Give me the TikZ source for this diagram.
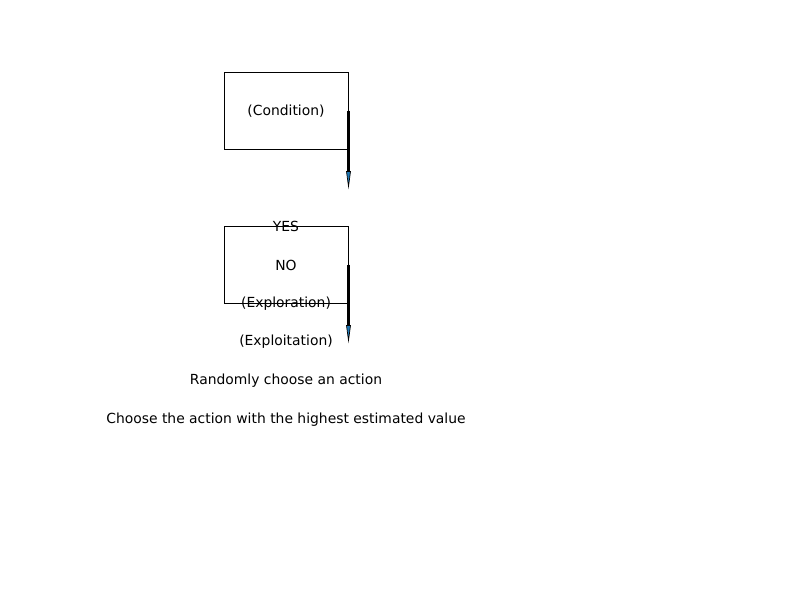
\documentclass[tikz,border=0pt]{standalone}
\usepackage{fontspec}
\setmainfont{DejaVu Sans}
\definecolor{tipblue}{HTML}{1F77B4}
\begin{document}
\begin{tikzpicture}[x=0.72pt,y=-0.72pt,
  box/.style={draw=black,line width=0.72pt,minimum width=124*0.72pt,minimum height=77*0.72pt,inner sep=0pt},
  lbl/.style={font=\fontsize{10}{12}\selectfont,inner sep=0pt,anchor=center,yshift=-1.5*0.72pt},
  shaft/.style={line width=1.5pt,black},
  head/.style={fill=tipblue,draw=black,line width=0.5pt}]
\useasboundingbox (0,0) rectangle (800,600);
\node[box] (b1) at (286,110.5) {};
\node[box] (b2) at (286,264.5) {};
\node[lbl] (t1) at (286,110) {(Condition)};
\node[lbl] (t2) at (286,225) {YES};
\node[lbl] (t3) at (286,264) {NO};
\node[lbl] (t4) at (286,302) {(Exploration)};
\node[lbl] (t5) at (286,340) {(Exploitation)};
\node[lbl] (t6) at (286,379) {Randomly choose an action};
\node[lbl] (t7) at (286,418) {Choose the action with the highest estimated value};
\coordinate (a1s) at (b1.east);
\coordinate (a1e) at ([yshift=-61*0.72pt]b1.east);
\coordinate (a1t) at ([yshift=-76*0.72pt]b1.east);
\draw[shaft] (a1s) -- (a1e);
\filldraw[head] ([xshift=-2*0.72pt]a1e) -- ([xshift=2*0.72pt]a1e) -- (a1t) -- cycle;
\coordinate (a2s) at (b2.east);
\coordinate (a2e) at ([yshift=-61*0.72pt]b2.east);
\coordinate (a2t) at ([yshift=-76*0.72pt]b2.east);
\draw[shaft] (a2s) -- (a2e);
\filldraw[head] ([xshift=-2*0.72pt]a2e) -- ([xshift=2*0.72pt]a2e) -- (a2t) -- cycle;
\end{tikzpicture}
\end{document}
